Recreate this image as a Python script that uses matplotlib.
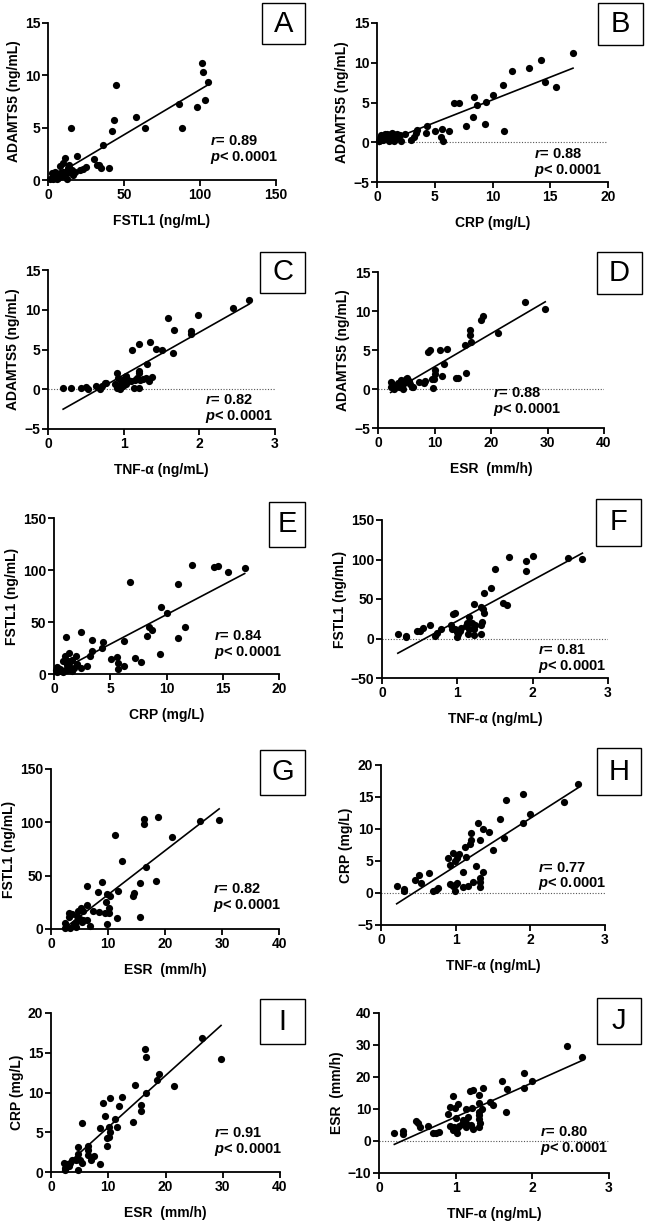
import numpy as np
import matplotlib
matplotlib.use("Agg")
import matplotlib.pyplot as plt
from matplotlib.patches import Rectangle

plt.rcParams['font.family'] = ['Liberation Sans', 'DejaVu Sans']
plt.rcParams['mathtext.fontset'] = 'custom'
plt.rcParams['mathtext.it'] = 'Liberation Sans:italic:bold'
plt.rcParams['mathtext.rm'] = 'Liberation Sans:bold'

# ---------------- data ----------------
A_x = [101.1, 102.2, 105, 103.5, 98, 86.2, 88.2, 64, 58, 44.5, 43.2, 41.9, 36, 14.9, 30.3, 32, 33.6, 34.9,
       40, 25, 18.9, 11.2, 10.1, 7.9, 13.8, 15.6, 21, 16.7, 12.3, 5.7, 3.5, 2.4, 4.6, 6.8, 9, 12.3, 1.3, 3,
       10, 13.4, 17.8, 23, 5.7, 7.9]
A_y = [11.2, 10.3, 9.4, 7.6, 7.0, 7.3, 5.0, 5.0, 6.0, 9.1, 5.7, 4.7, 3.3, 5.0, 2.0, 1.4, 1.4, 1.1,
       1.1, 1.2, 2.3, 2.1, 1.6, 1.3, 1.4, 1.0, 1.0, 0.5, 0.7, 0.5, 0.35, 0.7, 0.8, 0.2, 0.35, 0.05, 0.1, 0.05,
       0.8, 1.1, 0.8, 1.05, 0.05, 0.65]

B_x = [16.97, 14.2, 14.57, 15.5, 13.2, 11.7, 10.95, 10.03, 9.45, 8.7, 8.4, 7.1, 6.68, 8.27, 7.69, 9.36,
       11.0, 6.24, 5.66, 5.52, 5.7, 5.03, 4.36, 4.25, 3.38, 3.44, 3.24, 2.95, 2.43,
       0.2, 0.3, 0.35, 0.5, 0.6, 0.8, 0.9, 1.0, 1.1, 1.2, 1.3, 1.4, 1.5, 1.5, 1.7, 1.8, 2.0, 2.1, 0.7, 1.0, 1.3]
B_y = [11.25, 10.3, 7.6, 7.0, 9.35, 9.0, 7.25, 6.0, 5.05, 4.7, 5.7, 5.0, 5.0, 3.2, 2.0, 2.3,
       1.4, 1.4, 1.65, 0.67, 0.13, 1.4, 2.0, 1.2, 1.2, 1.6, 0.67, 0.25, 1.0,
       0.1, 0.5, 0.9, 0.3, 0.7, 0.5, 1.0, 0.2, 0.8, 1.1, 0.4, 1.0, 0.6, 0.2, 1.1, 0.5, 0.9, 0.2, 1.1, 0.6, 1.2]

C_x = [2.66, 2.44, 1.98, 1.59, 1.67, 1.89, 1.89, 1.65, 1.35, 1.43, 1.5, 1.2, 1.11, 1.31, 1.2, 1.2, 0.915,
       0.93, 0.97, 1.0, 1.03, 1.06, 1.1, 1.15, 1.17, 1.21, 1.26, 1.3, 1.33, 1.37, 1.03, 0.915, 0.95, 1.13, 1.2,
       0.99, 0.2, 0.31, 0.44, 0.5, 0.53, 0.63, 0.69, 0.72, 0.75, 0.77, 0.88]
C_y = [11.2, 10.27, 9.3, 9.0, 7.5, 7.3, 6.97, 4.6, 6.0, 5.07, 4.94, 5.66, 4.98, 3.17, 2.3, 2.0, 2.0,
       1.39, 0.84, 1.27, 1.69, 1.14, 1.06, 1.14, 1.39, 1.14, 1.27, 1.39, 1.06, 1.48, 0.63, 0.21, 0.08, 0.21, 0.21,
       0.42, 0.21, 0.21, 0.21, 0.3, 0.08, 0.46, 0.08, 0.38, 0.84, 0.84, 0.72]

D_x = [26.1, 29.6, 18.3, 18.6, 21.2, 16.3, 16.3, 16.5, 15.4, 15.5, 14.2, 13.85, 12.3, 11.0, 9.2, 8.9, 11.7,
       11.4, 10.1, 10.1, 9.9, 9.5, 9.8, 8.3, 8.1, 7.3, 6.2, 6.0,
       2.24, 2.24, 2.5, 2.8, 3.1, 3.6, 4.0, 4.3, 4.5, 4.66, 4.9, 5.2, 5.5, 3.7, 5.6]
D_y = [11.16, 10.2, 8.9, 9.33, 7.24, 7.54, 6.95, 5.97, 5.7, 2.09, 1.4, 1.4, 5.07, 4.98, 4.98, 4.69, 3.2,
       1.66, 2.43, 1.92, 1.32, 1.24, 0.08, 1.0, 0.8, 0.94, 0.3, 0.3,
       0.94, 0.3, 0.64, -0.04, 0.43, 0.8, 1.15, 0.43, 0.0, 0.8, 1.24, 1.45, 0.98, 0.3, 0.64]

E_x = [16.95, 15.5, 14.6, 14.2, 12.3, 11.0, 6.75, 9.5, 10.0, 8.4, 8.67, 8.3, 11.6, 11.0, 9.4, 6.24, 6.24,
       5.7, 5.65, 5.56, 5.1, 7.19, 7.7, 4.38, 4.23, 3.37, 3.4, 3.2, 2.93, 2.37, 2.43, 2.07, 1.95, 1.04, 1.0,
       1.33, 1.57, 1.27, 0.83, 1.36, 1.57, 1.12, 0.83, 0.47, 0.3, 0.24, 0.53, 1.78, 1.18, 0.18]
E_y = [101.6, 98.4, 104.2, 102.6, 105.1, 86.5, 88.5, 64.7, 58.3, 44.9, 42.0, 36.2, 44.9, 34.3, 19.2, 32.1, 8.0,
       10.6, 4.8, 16.3, 14.4, 15.1, 11.5, 30.4, 25.3, 33.0, 22.4, 17.6, 8.0, 40.7, 6.1, 9.9, 17.0, 35.3, 17.6,
       20.2, 13.8, 12.8, 12.8, 7.4, 3.2, 4.2, 1.9, 2.6, 6.4, 1.9, 5.1, 5.8, 9.0, 4.2]

F_x = [2.66, 2.47, 2.0, 1.91, 1.91, 1.68, 1.5, 1.45, 1.36, 1.6, 1.66, 1.22, 1.36, 1.32, 1.34, 1.33, 1.32,
       1.32, 1.22, 1.22, 1.24, 1.16, 1.13, 1.15, 1.14, 1.11, 1.05, 1.03, 1.01, 1.0, 0.99, 0.97, 0.94, 0.97,
       0.91, 0.93, 0.78, 0.73, 0.71, 0.64, 0.54, 0.5, 0.46, 0.32, 0.32, 0.21, 1.19]
F_y = [101.1, 102.4, 104.5, 97.8, 86.0, 103.2, 88.1, 64.5, 58.2, 45.1, 42.1, 43.8, 32.9, 40.0, 37.1, 21.1, 17.7,
       6.3, 12.6, 4.2, 17.7, 27.4, 20.2, 12.6, 5.5, 16.0, 13.5, 10.1, 5.1, 2.1, 8.4, 12.6, 31.6, 32.9,
       16.9, 11.8, 12.6, 7.2, 3.4, 17.7, 13.5, 10.1, 9.7, 3.4, 1.3, 5.5, 19.0]

G_x = [29.5, 26.2, 18.7, 16.4, 16.4, 21.3, 11.25, 12.4, 16.6, 15.6, 18.5, 11.8, 9.0, 8.3, 9.85, 10.4, 14.5,
       14.3, 6.4, 6.3, 8.5, 9.4, 10.1, 10.2, 9.7, 11.5, 15.6, 9.9, 7.35, 5.25, 5.6, 4.7, 4.6, 5.6, 6.4, 6.9,
       3.7, 3.1, 3.1, 4.43, 4.43, 3.4, 2.5, 2.5, 4.0, 5.4, 5.1]
G_y = [102.1, 100.8, 104.6, 103.3, 98.3, 86.1, 88.0, 64.2, 58.3, 43.5, 44.8, 36.0, 43.8, 35.1, 33.2, 30.7, 33.5,
       31.3, 40.1, 22.2, 15.7, 15.0, 14.7, 20.0, 25.1, 10.6, 11.0, 4.7, 17.2, 19.4, 16.9, 16.9, 12.5, 8.1, 8.8, 2.8,
       14.1, 11.6, 14.7, 6.9, 2.2, 1.3, 5.3, 1.3, 4.4, 6.9, 9.4]

H_x = [2.64, 2.45, 2.0, 1.9, 1.9, 1.68, 1.6, 1.65, 1.5, 1.45, 1.36, 1.3, 1.33, 1.21, 1.21, 1.19, 1.12, 1.14,
       1.05, 1.02, 0.99, 0.92, 0.9, 0.96, 1.1, 1.27, 1.36, 1.32, 1.33, 1.33, 1.23, 1.17, 1.1, 1.02, 0.99, 0.99,
       0.92, 0.77, 0.73, 0.7, 0.64, 0.51, 0.54, 0.46, 0.31, 0.31, 0.21, 0.96]
H_y = [16.96, 14.24, 12.3, 15.45, 10.94, 14.6, 11.6, 8.64, 6.65, 9.53, 10.05, 11.0, 8.22, 9.37, 8.32, 7.7, 7.17, 5.7,
       6.13, 5.45, 4.97, 4.4, 5.5, 6.28, 3.35, 4.19, 3.35, 2.3, 1.78, 1.0, 1.68, 1.15, 1.0, 1.57, 1.3, 0.26,
       1.41, 0.73, 0.47, 0.26, 3.14, 2.88, 1.57, 1.99, 0.63, 0.26, 1.15, 1.15]

I_x = [26.3, 29.7, 16.45, 16.6, 18.8, 18.5, 21.4, 14.6, 16.6, 15.7, 15.7, 14.3, 12.4, 11.8, 11.2, 11.6, 10.3,
       9.07, 9.36, 10.06, 10.3, 10.2, 9.8, 9.8, 8.5, 5.4, 8.5, 7.44, 7.03, 6.4, 6.4, 6.4, 4.7, 4.65, 5.4, 5.0,
       4.4, 4.65, 3.66, 3.37, 2.8, 2.33, 2.5, 2.38, 3.08]
I_y = [16.9, 14.2, 15.45, 14.45, 12.3, 11.6, 10.86, 10.95, 9.98, 8.4, 7.66, 6.23, 9.4, 8.25, 6.65, 5.6, 9.35,
       8.67, 7.07, 5.68, 5.0, 4.34, 4.25, 3.33, 5.5, 6.19, 1.05, 2.0, 1.47, 3.28, 2.74, 2.1, 3.16, 2.23, 1.18, 1.47,
       1.56, 0.21, 1.56, 1.14, 0.97, 1.18, 0.55, 0.21, 0.76]

J_x = [2.45, 2.65, 1.89, 1.99, 1.89, 1.6, 1.67, 1.65, 1.49, 1.45, 1.36, 1.23, 1.19, 1.3, 1.31, 1.34, 1.3, 1.3,
       1.3, 1.32, 1.3, 1.21, 1.13, 1.16, 1.09, 1.14, 1.13, 1.2, 1.22, 1.03, 0.97, 0.93, 0.9, 1.0, 0.99, 0.93,
       0.98, 1.02, 0.97, 1.02, 1.04, 1.08, 0.78, 0.74, 0.7, 0.64, 0.53, 0.51, 0.48, 0.31, 0.31, 0.2]
J_y = [29.6, 26.2, 21.4, 18.8, 16.5, 18.6, 16.4, 9.1, 11.3, 12.3, 16.5, 15.8, 15.7, 14.4, 11.8, 9.9, 9.2, 8.1,
       6.8, 5.5, 4.5, 10.2, 9.9, 7.6, 6.6, 5.5, 4.3, 5.0, 3.7, 11.6, 14.1, 10.5, 8.5, 7.3, 10.4, 4.7,
       4.5, 4.0, 3.4, 2.4, 4.7, 5.3, 2.7, 2.4, 2.6, 4.8, 4.5, 5.7, 6.4, 3.2, 2.2, 2.4]

panel_letters = ['A', 'B', 'C', 'D', 'E', 'F', 'G', 'H', 'I', 'J']
x_labels = ['FSTL1 (ng/mL)', 'CRP (mg/L)', 'TNF-α (ng/mL)', 'ESR  (mm/h)', 'CRP (mg/L)',
            'TNF-α (ng/mL)', 'ESR  (mm/h)', 'TNF-α (ng/mL)', 'ESR  (mm/h)', 'TNF-α (ng/mL)']
y_labels = ['ADAMTS5 (ng/mL)', 'ADAMTS5 (ng/mL)', 'ADAMTS5 (ng/mL)', 'ADAMTS5 (ng/mL)', 'FSTL1 (ng/mL)',
            'FSTL1 (ng/mL)', 'FSTL1 (ng/mL)', 'CRP (mg/L)', 'CRP (mg/L)', 'ESR  (mm/h)']
r_values = ['0.89', '0.88', '0.82', '0.88', '0.84', '0.81', '0.82', '0.77', '0.91', '0.80']
x_ticks = [[0, 50, 100, 150], [0, 5, 10, 15, 20], [0, 1, 2, 3], [0, 10, 20, 30, 40], [0, 5, 10, 15, 20],
           [0, 1, 2, 3], [0, 10, 20, 30, 40], [0, 1, 2, 3], [0, 10, 20, 30, 40], [0, 1, 2, 3]]
y_ticks = [[0, 5, 10, 15], [-5, 0, 5, 10, 15], [-5, 0, 5, 10, 15], [-5, 0, 5, 10, 15], [0, 50, 100, 150],
           [-50, 0, 50, 100, 150], [0, 50, 100, 150], [-5, 0, 5, 10, 15, 20], [0, 5, 10, 15, 20],
           [-10, 0, 10, 20, 30, 40]]

xs = [A_x, B_x, C_x, D_x, E_x, F_x, G_x, H_x, I_x, J_x]
ys = [A_y, B_y, C_y, D_y, E_y, F_y, G_y, H_y, I_y, J_y]

# ---------------- layout (pixels) ----------------
W, H = 645, 1222
axes_px = [(48, 276, 23, 180), (377, 608, 23, 182), (48, 275, 270, 429), (378, 604, 272, 428),
           (54, 279, 518, 674), (382, 608, 520, 678), (51, 279, 769, 929), (381, 605, 765, 925),
           (51, 280, 1013, 1172), (379, 609, 1013, 1173)]
box_px = [(262, 305, 3, 44), (598, 643, 3, 45), (260, 305, 252, 293), (597, 642, 252, 294),
          (269, 305, 502, 547), (596, 641, 499, 546), (260, 305, 750, 795), (597, 641, 748, 795),
          (260, 305, 999, 1044), (597, 641, 998, 1044)]
# text anchor (fraction of axes)
text_pos = [(0.71, 0.205), (0.68, 0.13), (0.69, 0.14), (0.51, 0.18), (0.71, 0.20),
            (0.69, 0.13), (0.71, 0.205), (0.70, 0.315), (0.71, 0.20), (0.70, 0.21)]

fig = plt.figure(figsize=(W / 100, H / 100), dpi=100)

for i in range(10):
    l, r, t, b = axes_px[i]
    ax = fig.add_axes([l / W, 1 - b / H, (r - l) / W, (b - t) / H])
    x = np.array(xs[i])
    y = np.array(ys[i])
    xt, yt = x_ticks[i], y_ticks[i]
    ax.set_xlim(xt[0], xt[-1])
    ax.set_ylim(yt[0], yt[-1])
    if yt[0] < 0:
        ax.axhline(0, color='#555555', lw=0.8, ls=(0, (1, 1.5)), zorder=1)
    ax.scatter(x, y, s=27, color='black', zorder=3, clip_on=False, linewidths=0)
    k, c = np.polyfit(x, y, 1)
    lx = np.array([x.min(), x.max()])
    ax.plot(lx, k * lx + c, color='black', lw=1.2, zorder=2)
    for s in ['top', 'right']:
        ax.spines[s].set_visible(False)
    for s in ['left', 'bottom']:
        ax.spines[s].set_linewidth(1.3)
    ax.set_xticks(xt)
    ax.set_yticks(yt)
    ax.tick_params(direction='out', length=4, width=1.3, labelsize=10, pad=1.5)
    for lab in ax.get_xticklabels() + ax.get_yticklabels():
        lab.set_fontweight('bold')
    ax.set_xlabel(x_labels[i], fontsize=10, fontweight='bold', labelpad=9)
    ax.set_ylabel(y_labels[i], fontsize=10, fontweight='bold', labelpad=3)
    tx, ty = text_pos[i]
    ax.text(tx, ty, r'$\mathit{r}$= ' + r_values[i], transform=ax.transAxes, fontsize=10.5,
            fontweight='bold', ha='left', va='bottom')
    ax.text(tx, ty - 0.005, r'$\mathit{p}$< 0.0001', transform=ax.transAxes, fontsize=10.5,
            fontweight='bold', ha='left', va='top')
    # panel letter box
    bl, br, bt, bb = box_px[i]
    fig.add_artist(Rectangle((bl / W, 1 - bb / H), (br - bl) / W, (bb - bt) / H,
                             transform=fig.transFigure, fill=False, ec='black', lw=1.0))
    fig.text((bl + br) / 2 / W, 1 - (bt + bb) / 2 / H, panel_letters[i], fontsize=21,
             ha='center', va='center')

fig.savefig('out.png', dpi=100, facecolor='white')
